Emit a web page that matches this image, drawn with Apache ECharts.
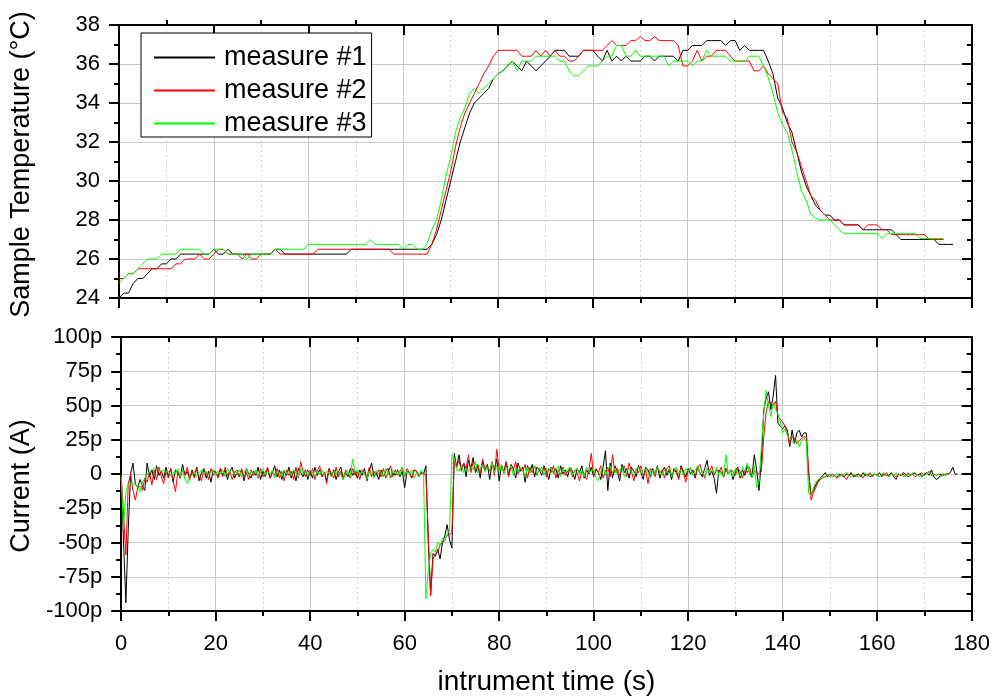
<!DOCTYPE html>
<html><head><meta charset="utf-8">
<script src="https://cdn.jsdelivr.net/npm/echarts@6/dist/echarts.min.js"></script>
<style>html,body{margin:0;padding:0;background:#fff}#c{width:993px;height:698px}</style>
</head><body><div id="c"></div>
<script>
const seriesNames = ['measure #1', 'measure #2', 'measure #3'];
const seriesColors = ['#000000', '#ff0000', '#00ff00'];
const xTitle = 'intrument time (s)';
const tempTitle = 'Sample Temperature (°C)';
const currentTitle = 'Current (A)';
const tempStep = 1;      // s between temperature samples
const currentStep = 0.5; // s between current samples
const topMinorTicks = [10, 30, 50, 70, 90, 110, 130, 150, 170];

// Temperature (°C), one value per second from t = 0
const temp1 = [
24.0,24.25,24.25,24.75,25.0,25.0,25.25,25.5,25.5,25.75,
25.75,26.0,26.0,26.25,26.25,26.25,26.25,26.25,26.25,26.25,
26.5,26.25,26.25,26.5,26.25,26.25,26.25,26.25,26.25,26.25,
26.25,26.25,26.25,26.5,26.5,26.25,26.25,26.25,26.25,26.25,
26.25,26.25,26.25,26.25,26.25,26.25,26.25,26.25,26.25,26.5,
26.5,26.5,26.5,26.5,26.5,26.5,26.5,26.5,26.5,26.5,
26.5,26.5,26.5,26.5,26.5,26.5,26.75,27.25,28.0,29.0,
30.0,31.0,32.0,32.75,33.5,34.0,34.25,34.5,34.75,35.25,
35.5,35.65,35.9,36.15,35.9,35.65,36.15,35.9,35.65,35.9,
36.15,36.4,36.7,36.7,36.7,36.4,36.4,36.4,36.7,36.7,
36.7,36.4,36.15,36.7,36.15,36.4,36.15,36.4,36.15,36.15,
36.15,36.4,36.4,36.15,36.4,36.4,36.4,36.4,36.15,36.7,
36.7,36.95,36.95,36.95,37.2,37.2,37.2,37.2,36.95,37.2,
37.2,36.7,36.95,36.7,36.7,36.7,36.7,36.15,35.5,34.25,
33.75,33.0,32.5,31.5,30.5,29.75,29.25,28.75,28.5,28.25,
28.25,28.0,28.0,27.75,27.75,27.75,27.75,27.5,27.5,27.5,
27.5,27.5,27.5,27.5,27.25,27.0,27.0,27.0,27.0,27.0,
27.0,27.0,27.0,26.75,26.75,26.75,26.75
];
const temp2 = [
25.0,25.0,25.25,25.25,25.5,25.5,25.5,25.5,25.5,25.5,
25.5,25.5,25.75,25.75,26.0,26.0,26.0,26.25,26.0,26.0,
26.25,26.5,26.5,26.25,26.25,26.25,26.0,26.25,26.0,26.0,
26.25,26.25,26.25,26.5,26.25,26.25,26.25,26.25,26.25,26.25,
26.25,26.25,26.5,26.5,26.5,26.5,26.5,26.5,26.5,26.5,
26.5,26.5,26.5,26.5,26.5,26.5,26.5,26.5,26.25,26.25,
26.25,26.25,26.25,26.25,26.25,26.25,26.75,27.5,28.5,29.5,
30.5,31.75,32.75,33.5,34.0,34.5,35.0,35.5,35.9,36.4,
36.7,36.7,36.7,36.7,36.7,36.4,36.4,36.4,36.7,36.4,
36.7,36.4,36.7,36.4,36.4,36.15,36.15,36.4,36.7,36.7,
36.7,36.7,36.7,36.95,37.2,36.95,36.95,36.95,37.2,37.2,
37.4,37.2,37.2,37.4,37.2,37.2,37.2,37.2,36.95,35.9,
35.9,36.15,36.7,36.15,36.4,36.4,36.7,36.7,36.7,36.4,
36.15,36.15,36.15,36.15,35.65,35.65,35.9,35.5,35.25,35.0,
33.5,33.25,32.0,31.5,30.75,30.0,29.25,29.0,28.5,28.25,
28.0,28.0,28.0,27.75,27.75,27.75,27.75,27.5,27.75,27.75,
27.75,27.5,27.5,27.25,27.25,27.25,27.25,27.25,27.25,27.25,
27.25,27.0,27.0,27.0,27.0
];
const temp3 = [
24.75,25.0,25.25,25.25,25.5,25.75,26.0,26.0,26.0,26.25,
26.25,26.25,26.25,26.5,26.5,26.5,26.5,26.5,26.25,26.25,
26.5,26.5,26.5,26.25,26.25,26.25,26.25,26.0,26.25,26.25,
26.25,26.25,26.25,26.5,26.5,26.5,26.5,26.5,26.5,26.5,
26.75,26.75,26.75,26.75,26.75,26.75,26.75,26.75,26.75,26.75,
26.75,26.75,26.75,27.0,26.75,26.75,26.75,26.75,26.75,26.75,
26.5,26.75,26.75,26.5,26.5,26.75,27.5,28.0,29.0,30.25,
31.25,32.5,33.25,33.75,34.5,34.75,34.5,34.75,35.0,35.25,
35.5,35.65,35.9,36.15,35.65,36.15,36.15,36.15,36.4,36.4,
36.4,36.4,36.4,36.15,36.15,35.65,35.4,35.4,35.65,35.9,
35.9,35.9,36.15,36.4,36.4,36.95,36.95,36.4,36.4,36.7,
36.4,36.4,36.4,36.4,36.4,36.4,35.9,36.15,36.15,36.15,
36.15,35.9,36.15,36.15,36.7,36.4,36.4,36.4,36.4,36.15,
36.15,36.15,36.15,36.4,36.4,36.4,35.9,35.3,34.5,33.5,
32.9,32.5,31.6,30.5,29.5,29.0,28.3,28.1,28.0,28.0,
28.0,27.75,27.5,27.3,27.3,27.3,27.3,27.3,27.3,27.3,
27.3,27.05,27.3,27.3,27.3,27.3,27.3,27.3,27.3,27.05,
27.05,27.05,27.05,27.05,27.05
];

// Current (pA), one value every 0.5 s from t = 0
const current1 = [
0,-50,-94,-40,0,8,-7,-10,-4,-9,
-12,8,-2,3,-4,6,-1,2,-3,5,
-2,4,-6,3,1,-3,7,-1,2,-4,
3,-2,5,-5,1,4,-3,2,-6,3,
1,-2,4,-1,3,-4,2,5,-3,1,
-2,3,-5,4,0,-3,2,-1,5,-4,
2,-2,4,-3,1,6,-2,3,-4,2,
-1,5,-3,2,-5,4,1,-2,3,-4,
2,-3,5,-1,3,-2,1,-5,4,-2,
3,-4,2,5,-3,1,-2,4,-1,2,
-3,3,-1,4,-5,2,8,-2,1,-4,
3,-2,2,4,-3,1,-1,3,-2,2,
-10,2,1,-3,3,2,-2,1,0,6,
-50,-88,-58,-60,-55,-62,-50,-45,-37,-48,
-54,15,5,14,3,8,-2,10,4,12,
1,6,-3,9,2,7,-4,8,3,11,
-5,6,2,9,-1,7,4,-3,8,2,
5,-6,6,1,7,-2,5,3,-1,6,
2,-4,5,1,4,-3,6,0,3,-2,
5,2,-4,4,1,6,-3,3,0,5,
-2,3,1,-4,5,17,-12,8,-3,6,
2,-5,7,1,4,-3,5,2,-2,6,
1,-4,5,3,-2,4,0,6,-3,2,
5,-1,3,-4,4,1,-3,6,2,-2,
4,0,3,-3,5,1,-2,4,10,-1,
2,-3,-14,3,1,-2,4,0,3,-4,
2,5,-3,3,-1,6,1,-2,14,3,
-12,10,47,55,60,47,57,72,37,35,
33,35,32,20,32,22,30,32,27,30,
30,0,-15,-12,-8,-5,-3,-1,1,-2,
0,-2,-1,-3,0,-1,-2,0,-1,1,
-2,-1,0,-2,1,-1,0,-2,-1,0,
-1,1,-2,0,-1,-1,1,-2,-4,0,
-1,1,0,-2,-1,0,1,-1,0,-2,
0,1,-1,3,-2,-4,-3,0,-1,0,
0,1,5,0,0
];
const current2 = [
0,-30,-59,-7,0,-12,-19,-10,-9,-12,
-3,-6,1,-8,3,-4,5,-2,-7,2,
-3,4,-5,-13,2,-3,3,-1,5,-4,
2,-3,4,-2,-5,3,1,-4,4,-1,
2,-3,3,-2,5,-1,2,-4,1,3,
-2,4,-3,1,-4,3,-1,2,-3,4,
-2,1,5,-3,2,-1,4,-3,2,-5,
3,-1,2,-4,5,-3,9,2,-2,3,
-1,4,-4,2,6,-2,1,-7,4,0,
-3,5,-2,2,-4,3,1,-3,4,-1,
2,-4,3,1,-3,5,-2,2,-1,3,
-2,4,-3,1,6,-2,3,-1,2,5,
-2,4,1,-3,3,2,-1,0,1,-2,
-45,-89,-62,-58,-57,-52,-50,-48,-45,-44,
-43,12,5,10,2,8,4,14,1,9,
3,7,0,11,4,6,2,9,-1,18,
3,6,1,8,-2,5,3,9,0,4,
2,7,-3,5,1,6,-1,4,2,5,
-2,4,1,6,-3,3,0,5,-1,2,
4,-2,3,1,-5,2,0,-4,3,15,
-2,4,1,6,-3,2,5,-2,14,1,
4,-1,3,6,-2,8,2,-5,4,1,
6,-1,3,-7,4,2,-2,5,1,3,
-3,4,6,-1,2,3,-4,5,1,-6,
3,4,0,-2,5,7,1,-3,4,2,
6,-1,3,1,5,-2,4,0,3,2,
-1,4,2,-3,3,1,5,-2,2,1,
0,2,27,45,53,52,50,53,42,40,
38,35,30,22,27,26,22,24,26,27,
27,3,-19,-14,-10,-6,-4,-3,-2,-1,
-2,0,-1,-3,-1,0,-2,-4,-1,0,
-1,-2,0,-1,-3,0,-1,1,-2,0,
-1,-2,0,-1,1,-2,0,-1,-2,0,
-1,0,-2,1,-1,0,-2,-1,0,1,
-1,0,2,-1,0,-1,0,-1,0,-1,
0
];
const current3 = [
-2,-40,-13,-7,-7,-7,-8,-9,-13,-6,
-3,0,2,3,4,4,3,2,3,1,
2,-1,1,0,4,-2,3,-4,-7,-3,
-1,2,-2,1,3,0,2,-1,1,3,
-1,2,0,3,-2,4,1,-1,2,0,
3,-2,1,4,-1,2,0,3,-2,1,
4,-1,2,0,3,-3,2,1,-2,3,
0,2,-1,3,1,-2,4,0,2,-1,
3,1,-2,2,0,3,-1,2,1,-2,
2,0,3,-1,-4,1,2,-2,11,1,
3,-1,2,0,-4,2,1,-3,3,0,
2,-2,4,1,-3,3,0,2,-1,5,
-2,2,0,3,-3,1,-2,3,0,-91,
-70,-58,-55,-57,-50,-52,-47,-49,-43,-42,
14,12,3,2,6,1,4,2,5,3,
9,1,4,7,2,5,3,8,1,6,
2,7,0,5,3,6,-1,4,2,5,
3,-2,5,1,4,6,0,3,5,-1,
4,2,5,0,3,6,-2,4,1,3,
5,-1,2,4,0,3,-2,5,1,2,
4,-3,-5,2,5,-1,3,6,1,4,
0,3,5,-2,2,4,1,-1,3,5,
0,2,4,1,-3,3,0,5,2,-1,
3,1,4,-2,2,5,0,3,-1,4,
2,5,-1,3,6,0,2,-2,4,1,
3,0,5,-1,2,-3,14,0,3,-2,
4,1,-2,5,2,8,0,-3,6,-10,
-5,20,44,61,50,42,52,47,44,38,
30,33,28,26,24,22,25,20,24,26,
24,-14,-16,-10,-6,-4,-3,-2,-2,-1,
0,-2,-1,0,-2,-1,0,1,-1,-2,
0,-1,-2,0,-1,1,-2,0,-1,0,
-1,-2,0,1,-1,-2,0,-1,1,-1,
0,-2,-1,0,-1,1,0,-1,-2,0,
-1,0,1,-1,0,-1,0,-2,0,-1,
0
];

const FONT = 'Arial, "Liberation Sans", sans-serif';
function pairs(arr, step) { return arr.map((v, i) => [i * step, v]); }

const axisLine = { show: true, onZero: false, lineStyle: { color: '#000', width: 2 } };
const majorTick = (inside) => ({ show: true, inside: inside, length: 10, lineStyle: { color: '#000', width: 2 } });
const minorTick = (split) => ({ show: true, splitNumber: split, length: 5, lineStyle: { color: '#000', width: 2 } });
const gridLine = { show: true, lineStyle: { color: '#c8c8c8', width: 1 } };
const minorGridLine = { show: true, lineStyle: { color: '#d0d0d0', width: 1, type: [2, 3] } };

function xAxes(grid, withLabels) {
  const base = { type: 'value', gridIndex: grid, min: 0, max: 180, interval: 20 };
  const list = [
    Object.assign({}, base, {
      position: 'bottom', axisLine, axisTick: majorTick(false), minorTick: minorTick(2),
      splitLine: gridLine, minorSplitLine: minorGridLine,
      axisLabel: withLabels ? { show: true, margin: 22, fontSize: 22, color: '#000', fontFamily: FONT } : { show: false },
      name: withLabels ? xTitle : '', nameLocation: 'middle', nameGap: 57,
      nameTextStyle: { fontSize: 28, color: '#000', fontFamily: FONT }
    })
  ];
  if (grid === 0) {
    list.push(Object.assign({}, base, {
      position: 'top', axisLine, axisTick: majorTick(true), minorTick: { show: false },
      splitLine: { show: false }, axisLabel: { show: false }
    }));
    list.push(Object.assign({}, base, {
      position: 'top', axisLine: { show: false },
      axisTick: { show: true, inside: false, length: 5, customValues: topMinorTicks, lineStyle: { color: '#000', width: 2 } },
      splitLine: { show: false }, axisLabel: { show: false }
    }));
  } else {
    list.push(Object.assign({}, base, {
      position: 'top', axisLine, axisTick: majorTick(true),
      minorTick: minorTick(2), splitLine: { show: false }, axisLabel: { show: false }
    }));
  }
  return list;
}

function yAxes(grid, min, max, interval, name, fmt, namePad) {
  return [
    { type: 'value', gridIndex: grid, min, max, interval, position: 'left',
      axisLine, axisTick: majorTick(false), minorTick: minorTick(2),
      splitLine: gridLine,
      axisLabel: { show: true, margin: 19, fontSize: 22, color: '#000', fontFamily: FONT, formatter: fmt },
      name, nameLocation: 'middle', nameGap: 84,
      nameTextStyle: { fontSize: 27, color: '#000', fontFamily: FONT, padding: namePad } },
    { type: 'value', gridIndex: grid, min, max, interval, position: 'right',
      axisLine, axisTick: majorTick(true), minorTick: minorTick(2),
      splitLine: { show: false }, axisLabel: { show: false } }
  ];
}

const xs = xAxes(0, false).concat(xAxes(1, true));
// indices: 0 grid0 bottom, 1 grid0 top, 2 grid0 top minor, 3 grid1 bottom, 4 grid1 top
const ys = yAxes(0, 24, 38, 2, tempTitle, v => String(v), [0, 6, 0, 0])
  .concat(yAxes(1, -100, 100, 25, currentTitle, v => v === 0 ? '0' : v + 'p', [0, 24, 0, 0]));

const tempData = [temp1, temp2, temp3];
const curData = [current1, current2, current3];
const series = [];
tempData.forEach((d, i) => series.push({
  name: seriesNames[i], type: 'line', xAxisIndex: 0, yAxisIndex: 0,
  data: pairs(d, tempStep), showSymbol: false, symbol: 'none',
  lineStyle: { color: seriesColors[i], width: 1 }, itemStyle: { color: seriesColors[i] }, z: 3 + i
}));
curData.forEach((d, i) => series.push({
  name: seriesNames[i], type: 'line', xAxisIndex: 3, yAxisIndex: 2,
  data: pairs(d, currentStep), showSymbol: false, symbol: 'none',
  lineStyle: { color: seriesColors[i], width: 1 }, itemStyle: { color: seriesColors[i] }, z: 3 + i
}));

const chart = echarts.init(document.getElementById('c'), null, { renderer: 'canvas' });
chart.setOption({
  animation: false,
  backgroundColor: '#fff',
  grid: [
    { left: 119, right: 21, top: 25, height: 273, containLabel: false },
    { left: 119, right: 21, top: 337, height: 274, containLabel: false }
  ],
  xAxis: xs,
  yAxis: ys,
  legend: {
    data: seriesNames, orient: 'vertical', left: 141, top: 33,
    borderColor: '#000', borderWidth: 1, backgroundColor: '#fff',
    padding: [11, 5, 0, 12], itemGap: 6, itemWidth: 61, itemHeight: 14,
    itemStyle: { opacity: 0 },
    textStyle: { fontSize: 27, color: '#000', fontFamily: FONT, padding: [0, 0, 0, 4] },
    selectedMode: false
  },
  series
});
</script></body></html>
